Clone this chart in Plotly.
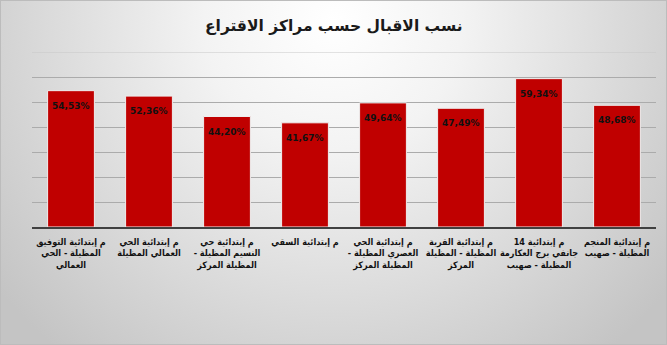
import base64
import plotly.graph_objects as go

categories = [
    "م إبتدائية التوفيق<br>المظيلة - الحي<br>العمالي",
    "م إبتدائية الحي<br>العمالي المظيلة",
    "م إبتدائية حي<br>النسيم المظيلة -\u200f<br>المظيلة المركز",
    "م إبتدائية السقي",
    "م إبتدائية الحي<br>العصري المظيلة -\u200f<br>المظيلة المركز",
    "م إبتدائية القرية<br>المظيلة - المظيلة<br>المركز",
    "م إبتدائية 14<br>جانفي برج العكارمة<br>المظيلة - صهيب",
    "م إبتدائية المنجم<br>المظيلة - صهيب",
]
values = [0.5453, 0.5236, 0.4420, 0.4167, 0.4964, 0.4749, 0.5934, 0.4868]
value_labels = [f"{v * 100:.2f}%".replace(".", ",") for v in values]
title_text = "نسب الاقبال حسب مراكز الاقتراع"

W, H = 667, 345
ML, MR, MT, MB = 32, 11, 52, 118
PW, PH = W - ML - MR, H - MT - MB

svg = (
    f'<svg xmlns="http://www.w3.org/2000/svg" width="{W}" height="{H}">'
    '<defs><radialGradient id="g" gradientUnits="userSpaceOnUse" cx="333" cy="20" r="430">'
    '<stop offset="0" stop-color="#ffffff"/><stop offset="0.3" stop-color="#f3f3f3"/>'
    '<stop offset="1" stop-color="#c4c4c4"/></radialGradient></defs>'
    f'<rect width="{W}" height="{H}" fill="url(#g)"/>'
    f'<rect x="0.5" y="0.5" width="{W-1}" height="{H-1}" fill="none" stroke="#bcbcbc" stroke-width="1"/>'
    '</svg>'
)
src = "data:image/svg+xml;base64," + base64.b64encode(svg.encode()).decode()

fig = go.Figure()
fig.add_trace(go.Bar(
    x=categories, y=values,
    marker=dict(color="#c00000", line=dict(color="#eeeeee", width=1)),
    hoverinfo="skip",
))

for c, v, t in zip(categories, values, value_labels):
    fig.add_annotation(
        x=c, y=v, text=f"<b>{t}</b>", showarrow=False, yanchor="top", yshift=-8,
        font=dict(family="DejaVu Sans", size=9, color="#111111"),
    )

fig.add_annotation(
    xref="paper", yref="paper", x=(W / 2 - ML) / PW, y=1 + (MT - 26) / PH,
    xanchor="center", yanchor="middle",
    text=f"<b>{title_text}</b>", showarrow=False,
    font=dict(family="DejaVu Sans", size=15.5, color="#1a1a1a"),
)

# top gridline at the 70% level
fig.add_shape(type="line", xref="paper", yref="y", x0=0, x1=1, y0=0.7, y1=0.7,
              line=dict(color="#c8c8c8", width=1), layer="below")

fig.update_layout(
    width=W, height=H,
    margin=dict(l=ML, r=MR, t=MT, b=MB),
    paper_bgcolor="#dcdcdc",
    plot_bgcolor="rgba(0,0,0,0)",
    bargap=0.4,
    showlegend=False,
    images=[dict(
        source=src, xref="paper", yref="paper",
        x=-ML / PW, y=1 + MT / PH, sizex=W / PW, sizey=H / PH,
        xanchor="left", yanchor="top", sizing="stretch", layer="below",
    )],
    xaxis=dict(
        showline=True, linecolor="#404040", linewidth=1.5, ticks="",
        tickfont=dict(family="DejaVu Sans Condensed, DejaVu Sans", size=9,
                      color="#111111", weight="bold"),
        tickangle=0, showgrid=False, ticklabelstandoff=5,
    ),
    yaxis=dict(
        range=[0, 0.7], tickvals=[0.1, 0.2, 0.3, 0.4, 0.5, 0.6],
        showticklabels=False, showgrid=True,
        gridcolor="#ababab", gridwidth=1, zeroline=False,
    ),
)

fig.write_html("out.html")
